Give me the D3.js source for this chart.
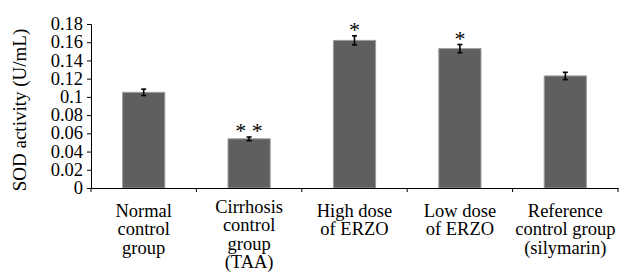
<!DOCTYPE html>
<html><head><meta charset="utf-8">
<script src="https://cdn.jsdelivr.net/npm/d3@7"></script>
<style>html,body{margin:0;padding:0;background:#fff;} svg{display:block;} svg text{font-family:"Liberation Serif","Tinos","Times New Roman","Times","Noto Serif","DejaVu Serif","FreeSerif","Nimbus Roman","Nimbus Roman No9 L",serif !important;}</style>
</head><body>
<svg id="c" width="624" height="279"></svg>
<script>
const categories = ["Normal|control|group", "Cirrhosis|control|group|(TAA)", "High dose|of ERZO", "Low dose|of ERZO", "Reference|control group|(silymarin)"];
const values = [0.105, 0.054, 0.162, 0.153, 0.123];
const errors = [0.0035, 0.002, 0.005, 0.0045, 0.004];
const marks = ["", "* *", "*", "*", ""];
const yTicks = [0, 0.02, 0.04, 0.06, 0.08, 0.1, 0.12, 0.14, 0.16, 0.18];
const yTickLabels = ["0", "0.02", "0.04", "0.06", "0.08", "0.1", "0.12", "0.14", "0.16", "0.18"];
const yTitle = "SOD activity (U/mL)";

(function () {
const svg = d3.select("#c");
const fs = 18.5;
const mLeft = 91, mRight = 618, mTop = 24, mBottom = 188;

const x = d3.scaleBand().domain(d3.range(categories.length)).range([mLeft, mRight]).paddingInner(0.6).paddingOuter(0.3);
const y = d3.scaleLinear().domain([0, 0.18]).range([mBottom, mTop]);

const yAxis = d3.axisLeft(y).tickValues(yTicks).tickFormat((d, i) => yTickLabels[i]).tickSizeOuter(0).tickSize(4).tickPadding(4);
const gy = svg.append("g").attr("transform", `translate(${mLeft},0)`).call(yAxis);
gy.attr("font-family", null);
gy.selectAll("text").style("font-size", fs + "px").attr("fill", "#000").attr("dy", "0.3em");
gy.selectAll("line,path").attr("stroke", "#000").attr("stroke-width", 1);

svg.append("g").selectAll("rect").data(values).join("rect")
  .attr("x", (d, i) => x(i)).attr("width", x.bandwidth())
  .attr("y", d => y(d)).attr("height", d => y(0) - y(d))
  .attr("fill", "#5f5f5f").attr("stroke", "#9c9c9c").attr("stroke-width", 1);

const eg = svg.append("g").attr("stroke", "#000").attr("stroke-width", 1.6);
values.forEach((v, i) => {
  const cx = x(i) + x.bandwidth() / 2;
  eg.append("line").attr("x1", cx).attr("x2", cx).attr("y1", y(v + errors[i])).attr("y2", y(v - errors[i]));
  eg.append("line").attr("x1", cx - 2.5).attr("x2", cx + 2.5).attr("y1", y(v + errors[i])).attr("y2", y(v + errors[i]));
  eg.append("line").attr("x1", cx - 2.5).attr("x2", cx + 2.5).attr("y1", y(v - errors[i])).attr("y2", y(v - errors[i]));
});

svg.append("g").selectAll("text").data(marks).join("text")
  .attr("x", (d, i) => x(i) + x.bandwidth() / 2)
  .attr("y", (d, i) => y(values[i] + errors[i]) + 1)
  .attr("text-anchor", "middle").style("font-size", "22px")
  .style("white-space", "pre")
  .text(d => d);

const xAxis = d3.axisBottom(x).tickFormat(() => "").tickSize(0).tickSizeOuter(0);
const gx = svg.append("g").attr("transform", `translate(0,${mBottom})`).call(xAxis);
gx.selectAll("line,path").attr("stroke", "#000").attr("stroke-width", 1);
const bounds = d3.range(categories.length + 1).map(i => mLeft + i * x.step());
svg.append("g").selectAll("line").data(bounds).join("line")
  .attr("x1", d => d).attr("x2", d => d).attr("y1", mBottom).attr("y2", mBottom + 4)
  .attr("stroke", "#000").attr("stroke-width", 1);

const lg = svg.append("g").attr("text-anchor", "middle").attr("fill", "#000");
categories.forEach((c, i) => {
  const lines = c.split("|");
  const t = lg.append("text").style("font-size", fs + "px").attr("x", x(i) + x.bandwidth() / 2).attr("y", lines.length > 3 ? 212.5 : 216.5);
  lines.forEach((l, j) => t.append("tspan").attr("x", x(i) + x.bandwidth() / 2).attr("dy", j ? 18.5 : 0).text(l));
});

svg.append("text").attr("transform", `translate(26,${(mTop + mBottom) / 2 + 4}) rotate(-90)`)
  .attr("text-anchor", "middle").style("font-size", "19px").text(yTitle);
})();
</script>
</body></html>
